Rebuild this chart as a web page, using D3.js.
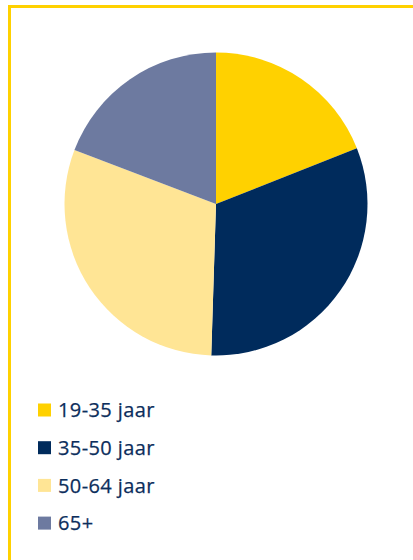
<!DOCTYPE html>
<html>
<head>
<meta charset="utf-8">
<script src="https://cdn.jsdelivr.net/npm/d3@7"></script>
<style>
  body { margin: 0; background: #fff; }
  svg { display: block; }
</style>
</head>
<body>
<div id="chart"></div>
<script>
const width = 413,
      height = 560;

// data
const labels = ["19-35 jaar", "35-50 jaar", "50-64 jaar", "65+"];
const values = [19, 31.5, 30.3, 19.2];
const colors = ["#ffd100", "#002b5c", "#ffe595", "#6d7aa0"];

var svg = d3.select("#chart").append("svg")
  .attr("width", width)
  .attr("height", height);

// yellow frame, runs off the right and bottom edge
svg.append("rect")
  .attr("x", 9.5)
  .attr("y", 6.5)
  .attr("width", 420)
  .attr("height", 580)
  .style("fill", "none")
  .style("stroke", "#ffd100")
  .style("stroke-width", 3);

const radius = 151.5;
const pie = d3.pie().sort(null).value(d => d);
const arc = d3.arc().innerRadius(0).outerRadius(radius);

var g = svg.append("g")
  .attr("transform", "translate(216,204)");

g.selectAll("path").data(pie(values))
  .enter().append("path")
  .attr("d", arc)
  .style("fill", (d, i) => colors[i]);

var legend = svg.append("g")
  .attr("transform", "translate(38,410)");

var item = legend.selectAll("g").data(labels)
  .enter().append("g")
  .attr("transform", (d, i) => `translate(0,${i * 37.7})`);

item.append("rect")
  .attr("x", 0)
  .attr("y", -6.5)
  .attr("width", 13)
  .attr("height", 13)
  .style("fill", (d, i) => colors[i]);

item.append("text")
  .attr("x", 20)
  .attr("y", 0)
  .attr("dy", "0.36em")
  .style("font-family", "'Open Sans', sans-serif")
  .style("font-size", "20px")
  .style("letter-spacing", "0.4px")
  .style("stroke", "#0c2e5c")
  .style("stroke-width", 0.25)
  .style("fill", "#0c2e5c")
  .text(d => d);
</script>
</body>
</html>
